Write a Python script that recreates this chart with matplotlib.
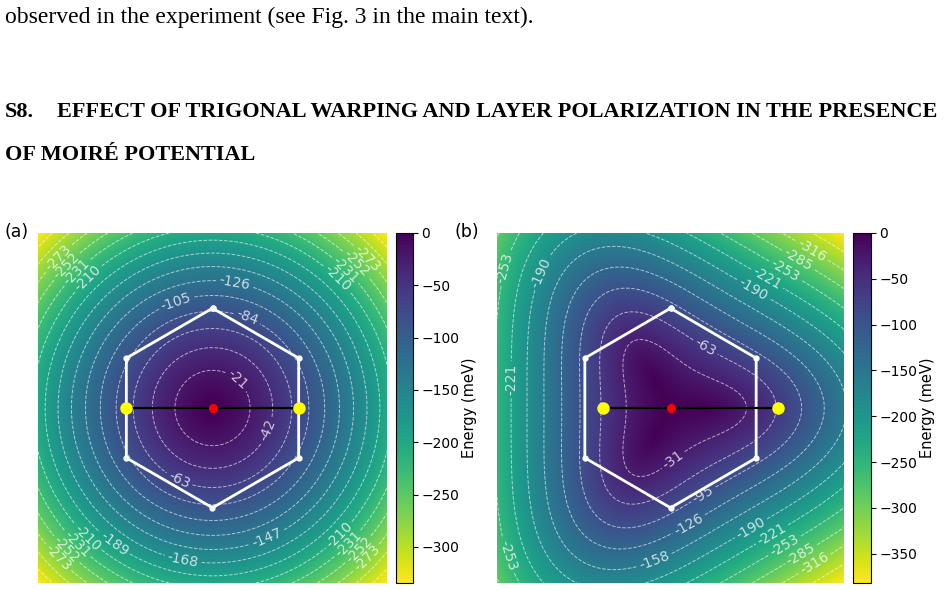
import numpy as np
import matplotlib
matplotlib.use("Agg")
import matplotlib.pyplot as plt

W, H = 944, 590

# ── Model parameters ─────────────────────────────────────────────────────────
HALF_WIDTH = 1.754          # k-range of each panel, in units of the BZ vertex radius
GRID_N = 500

# panel (a): isotropic  E = -A * k^p
A_SCALE = 88.0
A_POWER = 1.47
LEVELS_A = [-315, -294, -273, -252, -231, -210, -189, -168, -147, -126,
            -105, -84, -63, -42, -21]
TICKS_A = [0, -50, -100, -150, -200, -250, -300]

# panel (b): trigonal warping  E = -|f(k) - g(k) e^{3i phi}|
B_SLOPE = 198.0
B_CORE = 1.0
B_WARP = 27.0
LEVELS_B = [-348, -316, -285, -253, -221, -190, -158, -126, -95, -63, -31]
TICKS_B = [0, -50, -100, -150, -200, -250, -300, -350]

# contour label angles (deg) per level, as placed in the reference
LABEL_ANGLES_A = {
    -21: [48], -42: [-22], -63: [-115], -84: [69], -105: [109], -126: [80],
    -147: [-67], -168: [-101], -189: [-126],
    -210: [134, 46, -134, -45], -231: [135, 46, -135, -45],
    -252: [136, 45, -136, -44], -273: [136, 44, -136, -44],
}
LABEL_ANGLES_B = {
    -31: [-87], -63: [60], -95: [-69], -126: [-81], -158: [-96],
    -190: [134, 55, -56], -221: [170, 53, -51], -253: [140, -138, 50, -50],
    -285: [49, -48], -316: [48, -47],
}

# Brillouin-zone hexagon and special points
HEX_RADIUS = 1.0
HEX_ANGLES = [90, 150, 210, 270, 330, 30, 90]
GAMMA_POINT = [0.0, 0.0]
DOTS_A_X = [-0.866, 0.866]
DOTS_B_X = [-0.678, 1.09]
DOTS_Y = [0.0, 0.0]


def energy_a(kx, ky):
    r = np.hypot(kx, ky)
    return -A_SCALE * r ** A_POWER


def energy_b(kx, ky):
    r = np.hypot(kx, ky)
    phi = np.arctan2(ky, kx)
    f = B_SLOPE * (np.sqrt(r ** 2 + B_CORE ** 2) - B_CORE)
    g = B_WARP * r
    return -np.sqrt(np.clip(f ** 2 + g ** 2 - 2 * f * g * np.cos(3 * phi), 0, None))


def label_positions(func, angles_by_level):
    """Points lying on each contour level along the requested directions."""
    rr = np.linspace(0.0, 2.6, 4000)
    pos = []
    for lev, angles in angles_by_level.items():
        for ang in angles:
            a = np.deg2rad(ang)
            e = func(rr * np.cos(a), rr * np.sin(a))
            idx = np.where(e >= lev)[0].max()
            if idx >= len(rr) - 1:
                continue
            t = (e[idx] - lev) / (e[idx] - e[idx + 1])
            r = rr[idx] + t * (rr[idx + 1] - rr[idx])
            pos.append((r * np.cos(a), r * np.sin(a)))
    return pos


def px_axes(fig, x0, y0, x1, y1):
    return fig.add_axes([x0 / W, 1 - y1 / H, (x1 - x0) / W, (y1 - y0) / H])


def draw_panel(fig, box, cbox, func, levels, ticks, angles, dots_x):
    k = np.linspace(-HALF_WIDTH, HALF_WIDTH, GRID_N)
    KX, KY = np.meshgrid(k, k)
    E = func(KX, KY)

    ax = px_axes(fig, *box)
    im = ax.imshow(E, extent=[-HALF_WIDTH, HALF_WIDTH, -HALF_WIDTH, HALF_WIDTH],
                   origin="lower", cmap="viridis_r", vmin=E.min(), vmax=0,
                   interpolation="bilinear", aspect="auto")
    cs = ax.contour(KX, KY, E, levels=levels, colors="white",
                    linestyles="--", linewidths=0.7, alpha=0.6)
    ax.clabel(cs, fmt="%d", fontsize=10, colors="white",
              manual=label_positions(func, angles), inline=True,
              inline_spacing=3)
    for t in cs.labelTexts:
        t.set_alpha(0.75)

    hx = [HEX_RADIUS * np.cos(np.deg2rad(a)) for a in HEX_ANGLES]
    hy = [HEX_RADIUS * np.sin(np.deg2rad(a)) for a in HEX_ANGLES]
    ax.plot(hx, hy, color="white", lw=2, marker="o", ms=3.5, zorder=4)
    ax.plot(dots_x, DOTS_Y, color="black", lw=1.6, zorder=5)
    ax.plot(dots_x, DOTS_Y, "o", color="#ffff00", ms=9, mec="none", zorder=6)
    ax.plot(*GAMMA_POINT, "o", color="red", ms=6.5, mec="none", zorder=7)
    ax.set_xlim(-HALF_WIDTH, HALF_WIDTH)
    ax.set_ylim(-HALF_WIDTH, HALF_WIDTH)
    ax.axis("off")

    cax = px_axes(fig, *cbox)
    cb = fig.colorbar(im, cax=cax, ticks=ticks)
    cb.outline.set_linewidth(0.8)
    cax.tick_params(labelsize=10, length=3.5, width=0.8, pad=2.5)
    cax.set_ylabel("Energy (meV)", fontsize=10.5, labelpad=2)
    return ax


def fit_text(fig, x0, x1, yc, s, size, **kw):
    t = fig.text(x0 / W, 1 - yc / H, s, va="center", ha="left", fontsize=size, **kw)
    r = fig.canvas.get_renderer()
    w = t.get_window_extent(r).width
    t.set_fontsize(size * (x1 - x0) / w)
    return t.get_fontsize()


def main():
    fig = plt.figure(figsize=(W / 100, H / 100), dpi=100)

    serif = ["Liberation Serif", "DejaVu Serif"]
    fit_text(fig, 5, 538, 17, "observed in the experiment (see Fig. 3 in the main text).",
             15, family=serif)
    fs = fit_text(fig, 57, 938, 112,
                  "EFFECT OF TRIGONAL WARPING AND LAYER POLARIZATION IN THE PRESENCE",
                  15, family=serif, weight="bold")
    fig.text(5 / W, 1 - 112 / H, "S8.", va="center", ha="left", fontsize=fs,
             family=serif, weight="bold")
    fig.text(5 / W, 1 - 155 / H, "OF MOIRÉ POTENTIAL", va="center", ha="left",
             fontsize=fs, family=serif, weight="bold")

    fig.text(5 / W, 1 - 232 / H, "(a)", va="center", ha="left", fontsize=12.5)
    fig.text(455 / W, 1 - 232 / H, "(b)", va="center", ha="left", fontsize=12.5)

    draw_panel(fig, (38, 233, 387, 583), (396, 233, 413, 583),
               energy_a, LEVELS_A, TICKS_A, LABEL_ANGLES_A, DOTS_A_X)
    draw_panel(fig, (497, 233, 844, 583), (853, 233, 871, 583),
               energy_b, LEVELS_B, TICKS_B, LABEL_ANGLES_B, DOTS_B_X)

    fig.savefig("out.png", dpi=100)
    plt.close(fig)


if __name__ == "__main__":
    main()
